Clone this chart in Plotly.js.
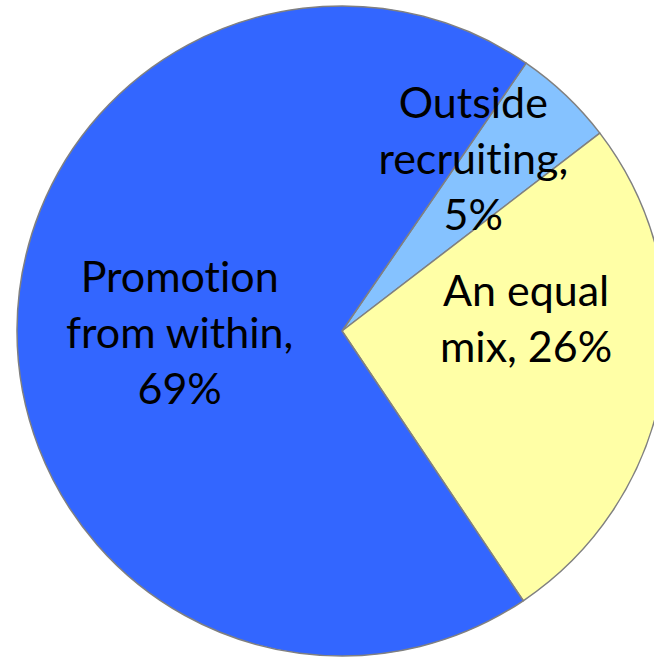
<!DOCTYPE html>
<html>
<head>
<meta charset="utf-8">
<script src="https://cdn.plot.ly/plotly-3.0.1.min.js"></script>
<style>
html, body { margin: 0; padding: 0; overflow: hidden; background: #ffffff; }
#chart { width: 700px; height: 700px; }
#chart text { font-variant-ligatures: none !important; font-feature-settings: "liga" 0, "clig" 0 !important; }
</style>
</head>
<body>
<div id="chart"></div>
<script>
var labels = ["Outside recruiting", "An equal mix", "Promotion from within"];
var values = [5, 26, 69];
var labelLines = [["Outside", "recruiting,"], ["An equal", "mix,"], ["Promotion", "from within,"]];
var sliceColors = ["#85C2FF", "#FFFFA6", "#3366FF"];

var W = 700, H = 700;
var cx = 342, cy = 331, R = 325;

// label block centres (pixels)
var labelPos = [[473, 157], [526, 317], [180, 331]];

function px(x) { return x / W; }
function py(y) { return 1 - y / H; }

var annotations = labels.map(function (l, i) {
  var lines = labelLines[i].slice();
  if (i === 1) {
    lines[lines.length - 1] = lines[lines.length - 1] + " " + values[i] + "%";
  } else {
    lines.push(values[i] + "%");
  }
  return {
    text: lines.join("<br>"),
    x: px(labelPos[i][0]), y: py(labelPos[i][1]),
    xref: "paper", yref: "paper",
    xanchor: "center", yanchor: "middle",
    showarrow: false,
    font: { family: "Lato, 'Open Sans', sans-serif", size: 43, color: "#000000" }
  };
});

var trace = {
  type: "pie",
  labels: labels,
  values: values,
  sort: false,
  direction: "clockwise",
  rotation: 34.5,
  textinfo: "none",
  hoverinfo: "none",
  marker: { colors: sliceColors, line: { color: "#808080", width: 1.5 } },
  domain: { x: [px(cx - R), px(cx + R)], y: [py(cy + R), py(cy - R)] }
};

Plotly.newPlot("chart", [trace], {
  width: W, height: H,
  margin: { l: 0, r: 0, t: 0, b: 0 },
  showlegend: false,
  paper_bgcolor: "#ffffff",
  annotations: annotations
}, { staticPlot: true });
</script>
</body>
</html>
